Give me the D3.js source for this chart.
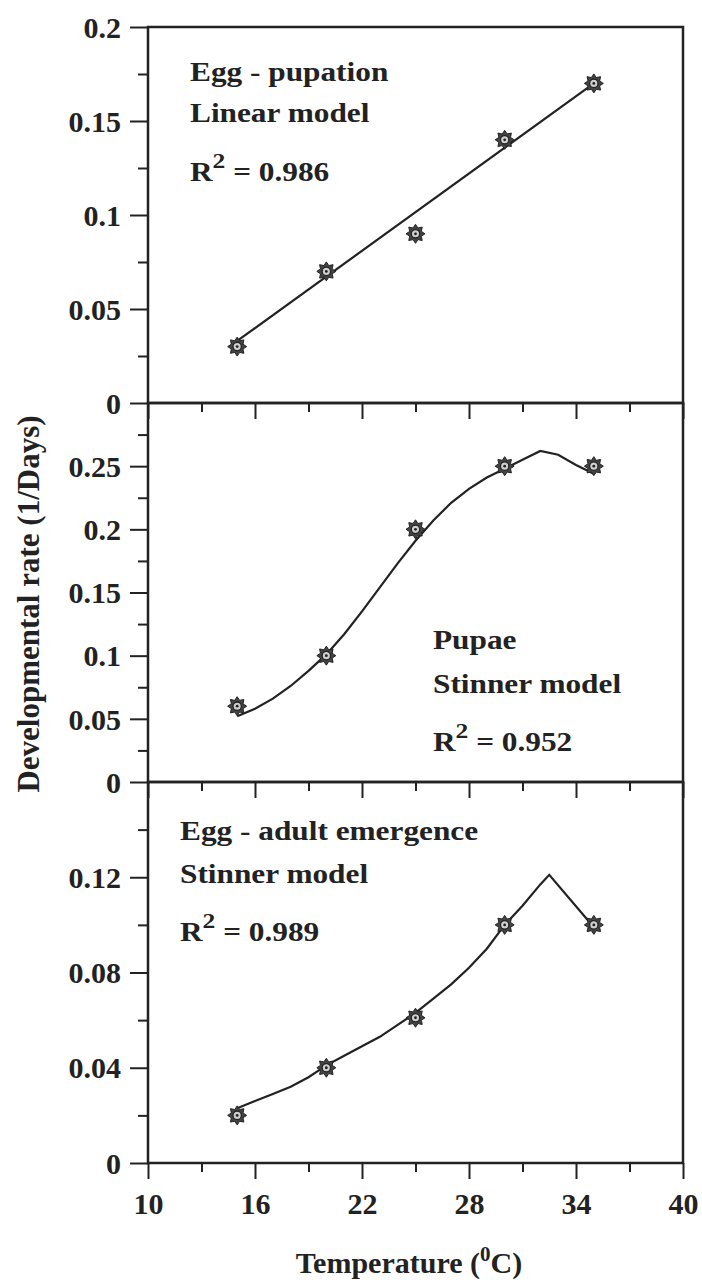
<!DOCTYPE html>
<html>
<head>
<meta charset="utf-8">
<script src="https://cdn.jsdelivr.net/npm/d3@7"></script>
<style>
  html, body { margin: 0; padding: 0; background: #fff; }
  svg text { font-family: "Liberation Serif", "Times New Roman", Times; font-weight: bold; fill: #222; }
</style>
</head>
<body>
<div id="chart"></div>
<script>
// observed temperatures and rates
const temps = [15, 20, 25, 30, 35];
const eggPupation = [0.03, 0.07, 0.09, 0.14, 0.17];
const pupae = [0.06, 0.10, 0.20, 0.25, 0.25];
const eggAdult = [0.02, 0.04, 0.061, 0.10, 0.10];

// fitted model curves
const linearFitT = [15, 35];
const linearFitRate = [0.033, 0.170];
const pupaeFitT = [15, 16, 17, 18, 19, 20, 21, 22, 23, 24, 25, 26, 27, 28, 29, 30, 31, 32, 33, 34, 35];
const pupaeFitRate = [0.052, 0.058, 0.066, 0.076, 0.088, 0.101, 0.117, 0.135, 0.154, 0.173, 0.191,
  0.207, 0.221, 0.232, 0.241, 0.248, 0.255, 0.262, 0.259, 0.251, 0.244];
const adultFitT = [15, 16, 17, 18, 19, 20, 21, 22, 23, 24, 25, 26, 27, 28, 29, 30, 31, 32, 32.5, 35];
const adultFitRate = [0.023, 0.026, 0.029, 0.032, 0.036, 0.041, 0.045, 0.049, 0.053, 0.058, 0.063,
  0.069, 0.075, 0.082, 0.090, 0.100, 0.108, 0.117, 0.121, 0.099];

// axis ticks
const xTicks = [10, 16, 22, 28, 34, 40];
const xMinorTicks = [13, 19, 25, 31, 37];
const topTicks = [0, 0.05, 0.1, 0.15, 0.2];
const topMinor = [0.025, 0.075, 0.125, 0.175];
const midTicks = [0, 0.05, 0.1, 0.15, 0.2, 0.25];
const midMinor = [0.025, 0.075, 0.125, 0.175, 0.225, 0.275];
const botTicks = [0, 0.04, 0.08, 0.12];
const botMinor = [0.02, 0.06, 0.1, 0.14];

const width = 702;
const height = 1284;
const left = 148;
const right = 683;
const ink = '#222';
const serif = '"Liberation Serif", "Times New Roman", Times';

const panels = [
  {
    top: 27, bottom: 403, max: 0.2, ticks: topTicks, minor: topMinor,
    obs: eggPupation, fitT: linearFitT, fitRate: linearFitRate,
    label: { x: 190, y: [81, 122, 181], lines: ['Egg - pupation', 'Linear model'], r2: '0.986' },
  },
  {
    top: 403, bottom: 782, max: 0.3, ticks: midTicks, minor: midMinor,
    obs: pupae, fitT: pupaeFitT, fitRate: pupaeFitRate,
    label: { x: 433, y: [649, 693, 751], lines: ['Pupae', 'Stinner model'], r2: '0.952' },
  },
  {
    top: 782, bottom: 1163, max: 0.16, ticks: botTicks, minor: botMinor,
    obs: eggAdult, fitT: adultFitT, fitRate: adultFitRate,
    label: { x: 180, y: [840, 883, 941], lines: ['Egg - adult emergence', 'Stinner model'], r2: '0.989' },
  },
];

const svg = d3.select('#chart')
  .append('svg')
  .attr('width', width)
  .attr('height', height);

const x = d3.scaleLinear().domain([10, 40]).range([left, right]);

// marker: 8 point gear with a ring inside
const gear = (() => {
  const pts = [];
  for (let k = 0; k < 16; k++) {
    const r = k % 2 === 0 ? 9.5 : 6.3;
    const a = (k * Math.PI) / 8 - Math.PI / 2;
    pts.push([r * Math.cos(a), r * Math.sin(a)]);
  }
  return d3.line()(pts) + 'Z';
})();

panels.forEach((p, idx) => {
  const y = d3.scaleLinear().domain([0, p.max]).range([p.bottom, p.top]);
  const g = svg.append('g');

  // y axis, major and minor
  g.append('g')
    .attr('transform', `translate(${left},0)`)
    .call(d3.axisLeft(y).tickValues(p.ticks).tickSize(18).tickPadding(9).tickFormat((d) => String(d)))
    .call((a) => a.select('.domain').remove())
    .call((a) => a.selectAll('line').attr('stroke', ink).attr('stroke-width', 2))
    .call((a) => a.selectAll('text')
      .attr('font-size', 30)
      .style('font-family', serif)
      .attr('dy', '0.34em'));

  g.append('g')
    .attr('transform', `translate(${left},0)`)
    .call(d3.axisLeft(y).tickValues(p.minor).tickSize(10).tickFormat(''))
    .call((a) => a.select('.domain').remove())
    .call((a) => a.selectAll('line').attr('stroke', ink).attr('stroke-width', 2));

  // x axis ticks below each panel
  const last = idx === panels.length - 1;
  g.append('g')
    .attr('transform', `translate(0,${p.bottom})`)
    .call(d3.axisBottom(x).tickValues(xTicks).tickSize(16).tickPadding(14)
      .tickFormat(last ? (d) => String(d) : ''))
    .call((a) => a.select('.domain').remove())
    .call((a) => a.selectAll('line').attr('stroke', ink).attr('stroke-width', 2))
    .call((a) => a.selectAll('text')
      .attr('font-size', 30)
      .style('font-family', serif));

  g.append('g')
    .attr('transform', `translate(0,${p.bottom})`)
    .call(d3.axisBottom(x).tickValues(xMinorTicks).tickSize(9).tickFormat(''))
    .call((a) => a.select('.domain').remove())
    .call((a) => a.selectAll('line').attr('stroke', ink).attr('stroke-width', 2));

  // panel frame
  g.append('rect')
    .attr('x', left)
    .attr('y', p.top)
    .attr('width', right - left)
    .attr('height', p.bottom - p.top)
    .attr('fill', 'none')
    .attr('stroke', ink)
    .attr('stroke-width', 2.5);

  // model curve
  const fit = p.fitT.map((t, i) => [t, p.fitRate[i]]);
  g.append('path')
    .datum(fit)
    .attr('fill', 'none')
    .attr('stroke', ink)
    .attr('stroke-width', 2.2)
    .attr('d', d3.line().x((d) => x(d[0])).y((d) => y(d[1])));

  // observed points
  const obs = g.selectAll('.pt')
    .data(temps.map((t, i) => [t, p.obs[i]]))
    .enter()
    .append('g')
    .attr('class', 'pt')
    .attr('transform', (d) => `translate(${x(d[0])},${y(d[1])})`);

  obs.append('path')
    .attr('d', gear)
    .attr('fill', '#444')
    .attr('stroke', ink)
    .attr('stroke-width', 1);
  obs.append('circle')
    .attr('r', 4.2)
    .attr('fill', '#cfcfcf')
    .attr('stroke', ink)
    .attr('stroke-width', 1.3);
  obs.append('circle')
    .attr('r', 1.4)
    .attr('fill', ink);

  // panel annotation
  const lab = p.label;
  lab.lines.forEach((s, i) => {
    g.append('text')
      .attr('transform', `translate(${lab.x},${lab.y[i]}) scale(1.16,1)`)
      .attr('font-size', 27)
      .text(s);
  });
  const r2 = g.append('text')
    .attr('transform', `translate(${lab.x},${lab.y[2]}) scale(1.16,1)`)
    .attr('font-size', 27);
  r2.append('tspan').text('R');
  r2.append('tspan').attr('font-size', 22).attr('dy', -13).text('2');
  r2.append('tspan').attr('dy', 13).text(` = ${lab.r2}`);
});

// axis titles
svg.append('text')
  .attr('transform', 'translate(39,604) rotate(-90)')
  .attr('text-anchor', 'middle')
  .attr('font-size', 31)
  .text('Developmental rate (1/Days)');

const xt = svg.append('text')
  .attr('x', 409)
  .attr('y', 1273)
  .attr('text-anchor', 'middle')
  .attr('font-size', 30);
xt.append('tspan').text('Temperature (');
xt.append('tspan').attr('font-size', 21).attr('dy', -12).text('0');
xt.append('tspan').attr('dy', 12).text('C)');
</script>
</body>
</html>
